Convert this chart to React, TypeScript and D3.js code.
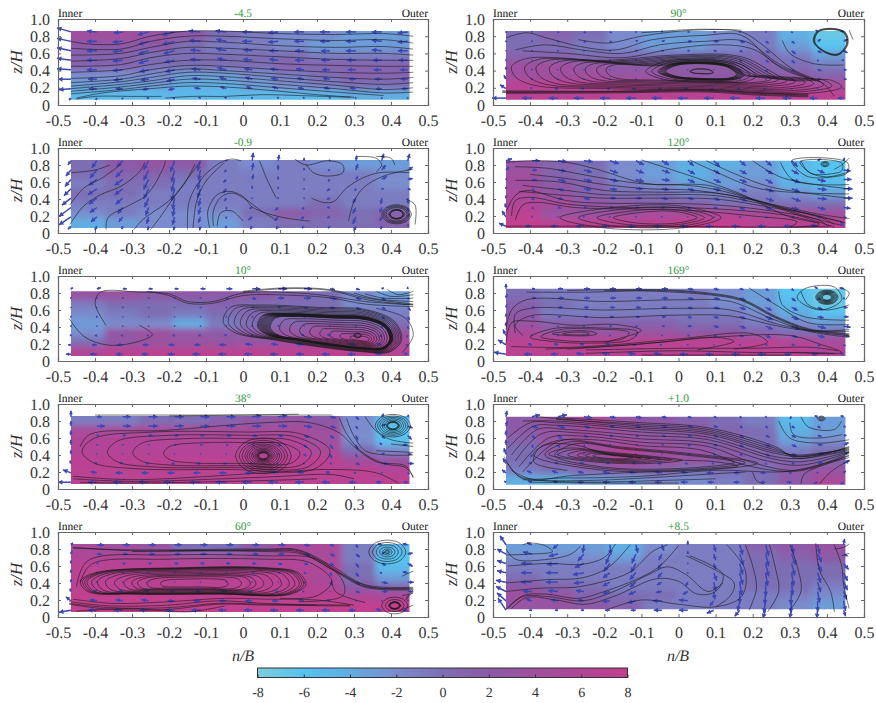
import React, { useEffect, useRef } from "react";
import {
  select,
  scaleLinear,
  scaleBand,
  axisBottom,
  axisLeft,
  axisTop,
  axisRight,
  line,
  curveCatmullRom,
  curveCatmullRomClosed,
  range,
} from "d3";

const FONT = "Liberation Serif";

const titles = ["-4.5", "-0.9", "10°", "38°", "60°", "90°", "120°", "169°", "+1.0", "+8.5"];
const heatTops = [0.86, 0.86, 0.82, 0.86, 0.86, 0.86, 0.85, 0.85, 0.85, 0.86];
const heatBottoms = [0.06, 0.06, 0.06, 0.06, 0.06, 0.06, 0.06, 0.06, 0.05, 0.09];
const nTicks = [-0.5, -0.4, -0.3, -0.2, -0.1, 0, 0.1, 0.2, 0.3, 0.4, 0.5];
const zTicks = [0, 0.2, 0.4, 0.6, 0.8, 1.0];
const colorTicks = [-8, -6, -4, -2, 0, 2, 4, 6, 8];
const colorValues = ["#7ccddc", "#56c3f0", "#60aee2", "#7a8ccd", "#7d6eb4", "#8c5aa6", "#9f509e", "#b14596", "#c23f8e"];

// arrow grid
const arrowN = [-0.465, -0.395, -0.325, -0.255, -0.185, -0.115, -0.045, 0.025, 0.095, 0.165, 0.235, 0.305, 0.375, 0.445];
const arrowZ = [0.85, 0.74, 0.63, 0.52, 0.41, 0.3, 0.19, 0.08];

// colour field, rows from top to bottom
const heat0 = [
  [4, 4, 3, 2, 0, -1, -2, -2, -3, -3],
  [2, 2, 2, 0, -1, -1, -2, -3, -3, -3],
  [1, 1, 0, 0, 0, 0, 0, -1, -1, -1],
  [1, 1, 0, 0, 0, 0, 1, 1, 1, 1],
  [-2, -2, -2, -3, -3, -2, -1, 0, 1, 1],
  [-3, -3, -3, -4, -4, -3, -2, -1, 0, 0],
  [-5, -5, -5, -5, -5, -5, -5, -5, -4, -4],
];
const heat1 = [
  [0, 2, 3, 2, -1, -2, -1, -2, -3, -3],
  [0, 1, 1, 0, -1, -1, -1, -1, -1, -2],
  [-1, 0, 0, -1, -1, -1, -1, -1, -1, -2],
  [0, 0, -1, -1, -1, -1, -1, -1, -1, -1],
  [-1, -1, -1, -1, -1, -1, -1, 0, -1, -1],
  [-2, -1, -2, -2, -2, 0, 2, 1, 0, 1],
  [-4, -3, -2, -2, -3, -1, 0, 0, 0, 1],
];
const heat2 = [
  [3, 3, 2, 2, 2, 2, 1, 0, -2, -3],
  [-1, 0, 0, 0, 1, 0, 0, 0, -2, -2],
  [-2, -1, 0, -1, 0, 1, 0, 0, 0, -1],
  [-3, -2, -2, -4, -1, 0, 1, 2, 1, 0],
  [-2, 3, 4, 3, 2, 2, 3, 4, 4, 3],
  [0, 2, 3, 3, 3, 3, 4, 6, 7, 5],
  [6, 7, 7, 7, 7, 7, 7, 7, 7, 6],
];
const heat3 = [
  [-1, -1, 0, 0, 1, 2, 3, 2, -2, -5],
  [5, 5, 5, 5, 5, 5, 5, 4, -2, -6],
  [6, 6, 6, 6, 6, 6, 6, 4, -2, -6],
  [6, 6, 6, 6, 6, 6, 6, 5, 0, -2],
  [7, 7, 7, 7, 7, 7, 7, 7, 4, 3],
  [7, 7, 7, 7, 7, 7, 7, 7, 7, 6],
  [7, 7, 7, 7, 7, 7, 7, 7, 7, 7],
];
const heat4 = [
  [5, 4, 3, 0, 0, 2, 5, 5, -1, -5],
  [6, 6, 6, 5, 5, 5, 6, 5, -1, -6],
  [7, 7, 7, 7, 7, 6, 6, 6, 0, -5],
  [7, 7, 7, 7, 7, 7, 7, 5, 0, -3],
  [7, 7, 7, 7, 7, 7, 7, 6, 2, 1],
  [8, 8, 8, 8, 8, 8, 7, 7, 6, 6],
  [8, 8, 8, 8, 8, 8, 8, 8, 8, 8],
];
const heat5 = [
  [0, 1, 0, -2, -3, -3, -2, -1, -4, -7],
  [0, 0, -1, -2, -3, -3, -2, -1, -3, -6],
  [1, 1, 0, 0, 0, 0, 0, 0, -1, -3],
  [4, 4, 3, 2, 2, 2, 2, 1, 0, -1],
  [4, 4, 4, 3, 3, 2, 2, 2, 2, 1],
  [7, 7, 7, 7, 6, 6, 6, 6, 6, 5],
  [7, 7, 7, 7, 7, 7, 7, 7, 7, 7],
];
const heat6 = [
  [3, 1, 0, -2, -3, -4, -4, -3, -5, -6],
  [4, 1, 0, -2, -3, -4, -3, -3, -5, -6],
  [4, 2, 1, -1, -2, -3, -3, -2, -4, -5],
  [5, 3, 1, 0, 0, -1, -1, -1, -2, -3],
  [6, 5, 3, 2, 1, 1, 0, 0, 0, 0],
  [7, 3, 3, 4, 5, 5, 6, 5, 5, 4],
  [8, 7, 7, 7, 7, 8, 8, 7, 7, 7],
];
const heat7 = [
  [0, -1, -1, -1, -1, -1, -2, -3, -6, -7],
  [1, 0, -1, -1, -1, -1, -2, -3, -5, -7],
  [2, -1, -1, -1, -1, -1, -1, -2, -4, -6],
  [3, 1, 1, 1, 1, 0, 0, -1, -2, -3],
  [5, 3, 3, 3, 3, 2, 2, 1, 0, 0],
  [7, 7, 7, 7, 7, 7, 7, 7, 6, 5],
  [7, 7, 7, 7, 7, 7, 7, 7, 7, 6],
];
const heat8 = [
  [2, 3, 5, 3, 2, 1, 0, -1, -5, -3],
  [2, 3, 4, 3, 2, 2, 1, 0, -4, -3],
  [1, 3, 4, 4, 3, 2, 1, 0, -3, -2],
  [0, 2, 4, 6, 4, 3, 2, 1, -1, 0],
  [0, 1, 3, 5, 4, 3, 2, 1, 1, 1],
  [-1, 0, 1, 2, 1, 0, 0, 0, 2, 3],
  [-4, -4, -3, -3, -2, -2, -1, 0, 2, 5],
];
const heat9 = [
  [-3, -3, -3, -4, -2, -1, -1, 1, 2, 3],
  [-2, -2, -2, -3, -1, -1, -1, 0, 1, 2],
  [-1, -1, -1, -1, -1, -1, -1, 0, 0, 0],
  [0, -1, -1, -1, -1, -1, -1, 0, 0, 0],
  [2, 1, 0, -1, -1, -1, -1, 0, 0, -1],
  [4, 3, 1, 0, 0, -1, -1, -1, -1, -2],
  [3, 3, 2, 1, -1, -1, -1, -1, -2, -3],
];
const heats = [heat0, heat1, heat2, heat3, heat4, heat5, heat6, heat7, heat8, heat9];

// arrow components, px-sized, rows follow arrowZ
const u0 = [
  [-14, -10, -9, -11, -12, -12, -11, -10, -10, -10, -10, -10, -10, -10],
  [-14, -10, -10, -10, -12, -11, -10, -10, -10, -10, -10, -10, -10, -10],
  [-14, -10, -10, -10, -11, -10, -10, -9, -9, -9, -9, -10, -10, -10],
  [-14, -10, -10, -10, -10, -10, -9, -9, -9, -9, -9, -9, -9, -9],
  [-14, -10, -10, -9, -9, -9, -9, -8, -8, -8, -8, -8, -8, -8],
  [-13, -9, -9, -8, -8, -8, -7, -7, -7, -7, -7, -7, -7, -7],
  [-12, -8, -7, -6, -6, -6, -6, -6, -6, -6, -6, -6, -6, -6],
  [-2, -1, -1, -2, -2, -2, -2, -1, -1, -1, -1, -1, -1, -1],
];
const v0 = [
  [4, 1, -1, -3, -3, 1, 1, 0, -1, 0, 0, 0, 0, -1],
  [3, 0, -1, -3, -3, 1, 2, 0, -1, 0, 0, 0, 1, -1],
  [3, 0, -1, -3, -3, 1, 2, 1, 0, 0, 0, 0, 1, 0],
  [2, 0, -1, -3, -2, 1, 2, 1, 1, 0, 0, 0, 0, 0],
  [1, 0, -1, -2, -2, 1, 2, 1, 1, 1, 0, 0, 0, 0],
  [0, 0, -1, -1, -2, 1, 2, 2, 1, 1, 1, 0, 0, 0],
  [-1, 0, 0, -1, -1, 1, 2, 2, 2, 1, 1, 1, 0, 0],
  [-2, -2, -1, 0, 0, 1, 1, 1, 1, 1, 1, 1, 0, 0],
];
const u1 = [
  [-3, -5, -6, -5, -4, -3, 1, 1, 1, 0, -1, 1, 2, 2],
  [-5, -7, -7, -5, -3, -2, -2, 1, 0, 0, -2, 2, 4, 5],
  [-6, -8, -8, -5, -3, -3, -3, 1, 0, 0, -2, 2, 5, 5],
  [-7, -9, -8, -5, -3, -3, -3, 0, 0, 0, -3, -1, 2, 3],
  [-9, -8, -7, -4, -2, -2, -2, -1, 0, 0, -3, -3, -1, 1],
  [-12, -7, -5, -3, -2, -2, 0, -3, -3, -2, -3, -3, -2, 1],
  [-12, -6, -4, -2, -2, -2, 0, -4, -3, -3, -3, -3, -2, 2],
  [-3, -2, -1, -1, -1, -1, -1, -2, -2, -2, -2, -2, -1, 1],
];
const v1 = [
  [-4, -7, -6, -9, -11, -10, 1, 8, 6, 3, 1, 5, 7, 7],
  [-6, -8, -7, -10, -12, -10, -2, 7, 5, 2, 0, 6, 5, 3],
  [-7, -6, -6, -10, -12, -10, -3, 5, 3, 1, -2, 3, 3, 1],
  [-7, -6, -6, -10, -12, -9, -4, 3, 2, -1, -2, -2, 0, -1],
  [-7, -6, -6, -9, -11, -8, -3, 0, -1, -1, -1, -5, -6, -6],
  [-9, -5, -6, -8, -9, -7, -2, -1, -3, -2, 0, -6, -5, -4],
  [-8, -5, -5, -7, -8, -6, -2, -3, -4, -2, -1, -7, -4, 3],
  [-3, -4, -3, -4, -4, -4, -2, -3, -3, -2, -2, -5, -3, 2],
];
const u2 = [
  [2, 4, 4, 4, 4, 5, 6, 8, 9, 8, 5, 4, 2, 0],
  [1, 1, 1, 1, 1, 1, 2, 4, 6, 7, 7, 5, 4, 2],
  [0, 0, 0, 0, 0, 1, 1, 2, 3, 4, 5, 5, 4, 3],
  [0, 0, 0, 0, 0, 0, 0, 0, 1, 1, 1, 2, 3, 2],
  [0, 0, 0, 0, 0, 0, 0, 0, 1, 0, 0, 0, 1, 1],
  [-1, -2, -2, -2, -2, -2, -2, -1, -2, -3, -3, -2, -2, -1],
  [-3, -5, -6, -6, -6, -6, -7, -7, -7, -8, -8, -7, -5, -2],
  [-5, -7, -7, -7, -7, -8, -8, -8, -8, -8, -8, -8, -7, -4],
];
const v2 = [
  [1, 1, 0, 0, 0, 0, 0, 0, 0, 0, -1, -1, 1, 2],
  [0, 0, 0, 0, 0, 0, -1, -1, 0, 0, -1, -1, -2, -1],
  [0, 0, 1, 0, 0, 0, 0, 0, 0, -1, -1, -2, -2, -3],
  [1, 1, 0, 0, 0, 0, 1, 1, 0, -1, -1, -2, -2, -3],
  [1, 0, 0, 0, 0, 0, 1, 1, 1, 0, 0, -1, -2, -3],
  [1, 0, 0, 0, 0, 0, 1, 1, 1, 1, 1, 0, -1, -2],
  [0, 0, 0, 0, 0, 0, 0, 1, 1, 1, 1, 1, 1, 0],
  [0, 0, 0, 0, 0, 0, 0, 0, 0, 0, 0, 0, 1, 1],
];
const u3 = [
  [0, 5, 8, 9, 9, 9, 9, 9, 9, 8, 6, 3, 2, 1],
  [0, 8, 8, 9, 9, 9, 9, 9, 9, 8, 6, 2, 4, 5],
  [0, 2, 3, 4, 4, 4, 5, 5, 5, 5, 4, 2, 3, 4],
  [0, 1, 1, 1, 2, 2, 2, 2, 3, 3, 3, 2, -2, -5],
  [0, 0, 0, 0, 0, 0, 0, 0, 1, 2, 2, 1, 3, 4],
  [-1, -2, -3, -3, -3, -4, -3, -3, -2, -1, 2, 4, 6, 6],
  [-8, -6, -7, -7, -7, -7, -7, -7, -7, -7, -4, -2, 1, 2],
  [-13, -9, -10, -10, -11, -11, -11, -10, -10, -9, -8, -7, -6, -4],
];
const v3 = [
  [6, 0, 0, 0, 0, 0, 0, 1, 1, 0, -1, -3, 3, 2],
  [5, 0, 0, 0, 0, 0, 0, 0, 0, -1, -2, -3, 2, -2],
  [5, 0, 0, 0, 0, 0, 0, -1, -1, -2, -3, -5, -3, -4],
  [5, 0, 0, 0, 0, 0, 0, 0, -1, -3, -4, -5, 2, 0],
  [4, 0, 0, 0, 0, 0, 0, 0, 0, -2, -4, -3, 1, 0],
  [3, 1, 1, 0, 0, 0, 0, 0, 0, 0, 0, -1, 0, 0],
  [3, 1, 0, 0, 0, 0, 0, 0, 1, 1, 1, 0, 0, -1],
  [0, 0, 0, 0, 0, 0, 0, 0, 0, 0, 0, 0, 0, 0],
];
const u4 = [
  [2, 7, 7, 7, 7, 7, 7, 7, 7, 6, 4, 2, -4, -5],
  [1, 5, 5, 6, 6, 6, 6, 6, 6, 6, 5, 4, 3, 5],
  [0, 2, 3, 3, 4, 4, 4, 4, 4, 4, 4, 3, 4, 5],
  [0, 1, 1, 1, 1, 1, 1, 2, 2, 2, 2, 3, -2, -5],
  [0, 0, 0, 0, 0, 0, 0, 0, 0, 1, 2, 4, 6, 6],
  [-1, -3, -4, -4, -4, -5, -5, -4, -3, -2, 0, 4, 6, 5],
  [-5, -7, -7, -7, -7, -7, -7, -7, -6, -5, -3, -1, 1, 1],
  [-12, -9, -9, -9, -9, -9, -8, -8, -8, -8, -8, -7, -6, -5],
];
const v4 = [
  [2, 0, 0, 0, 0, 0, 0, 0, 0, -1, -1, -3, 1, 1],
  [3, 0, 0, 0, 0, 0, 0, 0, 0, -1, -2, -3, 2, 1],
  [3, 0, 0, 0, 0, 0, 0, 0, -1, -1, -2, -4, -2, -3],
  [3, 0, 0, 0, 0, 0, 0, 0, 0, -1, -3, -4, 0, 1],
  [3, 1, 0, 0, 0, 0, 0, 0, 0, -1, -3, -2, -1, 0],
  [3, 1, 1, 1, 0, 0, 0, 0, 0, 0, 0, -1, 0, 0],
  [4, 1, 1, 1, 0, 0, 0, 0, 0, 1, 1, 0, 0, 1],
  [-2, 0, 0, 0, 0, 0, 0, 0, 0, 0, 0, 0, 1, 0],
];
const u5 = [
  [1, 1, 1, 2, 2, 1, 1, 2, 2, 1, 1, 1, -2, -3],
  [1, 1, 1, 2, 2, 2, 3, 4, 5, 5, 3, 3, 3, 4],
  [0, 1, 1, 1, 1, 2, 2, 2, 3, 3, 4, 4, 4, 4],
  [0, 0, 0, 1, 1, 1, 1, 1, 1, 2, 3, 3, 1, -2],
  [0, 0, 0, 0, 0, 0, 0, 0, 0, 1, 2, 3, 4, 3],
  [-2, -1, -1, -1, -1, -1, -1, -1, -1, -1, 0, 2, 3, 3],
  [-6, -2, -3, -3, -3, -4, -4, -4, -3, -3, -2, -1, 0, 0],
  [-14, -10, -9, -10, -10, -10, -10, -10, -10, -10, -10, -9, -8, -6],
];
const v5 = [
  [0, 0, -1, -1, -1, 0, 1, 0, 0, 0, 0, -1, 2, 1],
  [0, 0, -1, -1, -1, 1, 1, 0, 0, -1, -2, -2, 2, 2],
  [0, 0, 0, 0, 0, 0, 0, 0, 0, -1, -2, -3, -2, -2],
  [1, 0, 0, 0, 0, 0, 0, 0, 0, -1, -2, -3, -1, 0],
  [3, 1, 0, 0, 0, 0, 0, 0, 0, -1, -2, -2, -1, 0],
  [4, 1, 0, 0, 0, 0, 0, 0, 0, 0, -1, -1, 0, 0],
  [4, 1, 0, 0, 0, 0, 0, 0, 0, 0, 0, 0, 0, 0],
  [0, 0, 0, 0, 0, 0, 0, 0, 0, 0, 0, 0, 0, 0],
];
const u6 = [
  [6, 8, 9, 9, 9, 8, 7, 6, 6, 6, 6, 6, 3, 1],
  [3, 5, 8, 8, 8, 8, 8, 7, 6, 7, 7, 7, 7, 7],
  [1, 5, 8, 8, 8, 8, 8, 7, 7, 7, 7, 8, 8, 8],
  [0, 3, 6, 7, 7, 7, 7, 7, 7, 7, 8, 8, 9, 9],
  [0, 2, 5, 6, 6, 6, 6, 6, 6, 7, 8, 9, 9, 9],
  [-1, 2, 3, 3, 3, 3, 3, 3, 4, 5, 6, 7, 8, 7],
  [-4, 0, 0, -1, -1, -1, -1, 0, 1, 1, 2, 3, 4, 3],
  [-7, -7, -7, -8, -8, -8, -8, -8, -8, -8, -8, -8, -7, -3],
];
const v6 = [
  [2, 0, -1, -1, -3, -4, -4, -5, -6, -5, -5, -6, 2, 3],
  [3, 0, -1, -2, -3, -3, -3, -4, -4, -4, -4, -4, -3, -1],
  [1, -1, -2, -2, -2, -2, -1, -3, -3, -3, -4, -3, -2, 0],
  [2, -2, -2, -1, -1, 0, -1, -2, -2, -3, -3, -3, -1, 0],
  [3, -2, -1, -1, 0, 0, -1, -1, -2, -3, -3, -3, -1, 0],
  [4, -1, -1, 0, 0, 0, 0, -1, -1, -2, -2, -2, -2, -1],
  [6, 1, 0, 0, 0, 0, 0, 0, -1, -1, -1, -1, -1, -1],
  [3, 0, 0, 0, 0, 0, 0, 0, 0, 0, 0, 0, 1, 5],
];
const u7 = [
  [0, 3, 5, 6, 6, 6, 6, 6, 5, 4, 3, 2, -3, -4],
  [1, 4, 6, 6, 6, 6, 6, 6, 6, 6, 5, 4, 3, 1],
  [1, 3, 5, 5, 5, 5, 5, 5, 6, 6, 6, 6, 5, 4],
  [0, 2, 3, 4, 4, 4, 4, 4, 5, 6, 7, 7, 6, 5],
  [0, 1, 1, 1, 2, 2, 3, 4, 5, 6, 7, 8, 8, 7],
  [-3, -1, -1, 0, 1, 1, 1, 2, 3, 4, 5, 6, 7, 6],
  [-8, -4, -4, -4, -4, -3, -2, -1, 0, 1, 2, 3, 3, 2],
  [-12, -8, -7, -8, -8, -8, -8, -8, -8, -8, -8, -7, -6, -3],
];
const v7 = [
  [5, 0, 0, 0, 0, 0, 0, -1, -1, -1, -2, -2, 2, 1],
  [4, 0, 0, 0, 0, 0, 0, -1, -1, -2, -3, -3, -2, -1],
  [3, 0, 0, 0, 0, 0, 0, -1, -1, -2, -3, -3, -2, 0],
  [3, -1, 0, 0, 0, 0, 0, -1, -1, -2, -3, -3, -1, 0],
  [4, 0, 0, 0, 0, 0, 0, 0, -1, -2, -3, -3, -2, -1],
  [6, 1, 0, 0, 0, 0, 0, 0, -1, -1, -2, -2, -2, -1],
  [5, 1, 1, 1, 1, 0, 0, 0, 0, 0, 0, 0, -1, -1],
  [2, 0, 0, 1, 1, 1, 1, 0, 0, 0, 0, 0, 0, 1],
];
const u8 = [
  [1, 8, 9, 8, 6, 6, 5, 4, 3, 2, 1, -2, -3, -3],
  [1, 6, 7, 6, 5, 5, 5, 5, 4, 3, 2, 3, 3, 2],
  [0, 3, 4, 4, 3, 3, 4, 4, 4, 4, 4, 4, 4, 3],
  [0, 1, 2, 1, 1, 2, 2, 3, 4, 4, 5, 5, 5, 5],
  [-2, -1, -1, -1, -1, 0, 0, 1, 2, 3, 4, 5, 6, 5],
  [-3, -3, -3, -4, -4, -4, -4, -3, -2, -1, 1, 3, 5, 6],
  [-4, -5, -6, -6, -7, -7, -7, -7, -7, -6, -5, -3, -1, 2],
  [-2, -4, -5, -6, -7, -7, -7, -7, -6, -6, -5, -5, -4, -3],
];
const v8 = [
  [6, 2, 2, -1, -1, -1, -1, -1, -1, -1, -1, -2, 1, 1],
  [5, -2, -2, -2, -1, -1, -1, -1, -1, -2, -2, -2, -2, -1],
  [5, -3, -3, -2, -1, -1, -1, -1, -2, -2, -2, -2, -1, 0],
  [5, -3, -3, -2, 0, 0, 0, -1, -1, -2, -2, -2, 0, 2],
  [6, -3, -1, 0, 0, 0, 0, 0, -1, -1, -2, -1, 1, 2],
  [5, 1, 1, 1, 1, 1, 0, 0, 0, -1, -1, 0, 1, 3],
  [3, 2, 2, 1, 1, 1, 1, 1, 0, 0, 0, 0, 1, 2],
  [1, 1, 1, 0, 0, 0, 0, 0, 0, 0, 0, 0, -1, -2],
];
const u9 = [
  [-6, -5, -5, -1, 1, 2, 2, 0, 2, 3, 3, 2, 2, 1],
  [-9, -9, -9, -6, -4, -4, -3, 0, 2, 4, 3, 4, 4, 4],
  [-9, -11, -11, -9, -6, -5, -4, 0, 2, 3, 3, 3, 4, 5],
  [-9, -11, -12, -11, -7, -6, -4, 0, 3, 3, 2, 2, 3, 4],
  [-10, -11, -12, -10, -7, -6, -5, -2, 2, 2, 0, 1, 3, 4],
  [-10, -9, -10, -8, -7, -7, -6, -5, 1, 0, -1, -1, 2, 3],
  [-9, -6, -7, -6, -7, -8, -9, -9, -4, -2, -2, -1, 0, 2],
  [-8, -3, -3, -3, -5, -5, -8, -9, -7, -5, -3, -2, -1, 2],
];
const v9 = [
  [9, 2, -4, -8, -10, -8, -6, 4, -7, -10, -11, -9, -9, 6],
  [5, 2, -2, -7, -10, -9, -6, 3, -6, -11, -12, -11, -8, -2],
  [3, 0, -1, -4, -8, -9, -6, 1, -6, -11, -13, -12, -8, -6],
  [2, 0, 0, -2, -5, -7, -5, -1, -8, -12, -13, -13, -10, -8],
  [2, 0, 0, -1, -4, -5, -3, -4, -9, -13, -14, -13, -10, -8],
  [5, 0, 1, 1, -2, -3, -1, -3, -8, -12, -13, -13, -11, -8],
  [8, 2, 1, 1, -1, -2, 0, 1, -5, -10, -12, -12, -11, -10],
  [12, 0, 0, 0, 0, 0, 0, 0, -3, -6, -8, -8, -8, -6],
];
const us = [u0, u1, u2, u3, u4, u5, u6, u7, u8, u9];
const vs = [v0, v1, v2, v3, v4, v5, v6, v7, v8, v9];

// streamlines as flat n,z lists
const streams0 = [
  [0.46, 0.8, 0.38, 0.83, 0.25, 0.82, 0.1, 0.83, -0.05, 0.86, -0.15, 0.86, -0.25, 0.8, -0.33, 0.71, -0.42, 0.71, -0.465, 0.74],
  [0.46, 0.72, 0.38, 0.76, 0.25, 0.75, 0.1, 0.77, -0.05, 0.8, -0.15, 0.8, -0.25, 0.74, -0.33, 0.65, -0.465, 0.66],
  [0.46, 0.65, 0.38, 0.68, 0.25, 0.67, 0.1, 0.69, -0.05, 0.73, -0.15, 0.74, -0.25, 0.67, -0.33, 0.6, -0.465, 0.58],
  [0.46, 0.58, 0.38, 0.6, 0.25, 0.6, 0.1, 0.63, -0.05, 0.66, -0.15, 0.67, -0.25, 0.61, -0.33, 0.54, -0.465, 0.51],
  [0.46, 0.52, 0.38, 0.52, 0.25, 0.53, 0.1, 0.56, -0.05, 0.59, -0.15, 0.6, -0.25, 0.55, -0.33, 0.47, -0.465, 0.45],
  [0.46, 0.45, 0.38, 0.45, 0.25, 0.46, 0.1, 0.48, -0.05, 0.52, -0.15, 0.52, -0.25, 0.47, -0.33, 0.41, -0.465, 0.38],
  [0.46, 0.38, 0.38, 0.37, 0.25, 0.38, 0.1, 0.41, -0.05, 0.45, -0.15, 0.46, -0.25, 0.41, -0.33, 0.34, -0.465, 0.31],
  [0.46, 0.32, 0.38, 0.3, 0.25, 0.32, 0.1, 0.36, -0.05, 0.4, -0.15, 0.42, -0.25, 0.36, -0.33, 0.3, -0.465, 0.26],
  [0.46, 0.26, 0.38, 0.24, 0.25, 0.27, 0.1, 0.32, -0.05, 0.37, -0.15, 0.38, -0.25, 0.32, -0.33, 0.27, -0.465, 0.22],
  [0.46, 0.2, 0.38, 0.18, 0.25, 0.23, 0.1, 0.28, -0.05, 0.33, -0.15, 0.34, -0.25, 0.28, -0.33, 0.24, -0.465, 0.19],
  [0.46, 0.15, 0.38, 0.14, 0.25, 0.19, 0.1, 0.24, -0.05, 0.29, -0.15, 0.3, -0.25, 0.25, -0.33, 0.21, -0.465, 0.16],
  [0.38, 0.11, 0.25, 0.15, 0.1, 0.2, -0.05, 0.25, -0.15, 0.26, -0.25, 0.22, -0.33, 0.18, -0.465, 0.13],
  [0.3, 0.09, 0.2, 0.12, 0.1, 0.16, -0.05, 0.21, -0.15, 0.22, -0.25, 0.19, -0.38, 0.14, -0.45, 0.08],
  [0.29, 0.09, 0.15, 0.11, 0.05, 0.12, -0.05, 0.1, -0.14, 0.1, -0.21, 0.08],
  [-0.22, 0.1, -0.3, 0.1, -0.4, 0.1, -0.45, 0.07],
];
const streams1 = [
  [-0.465, 0.71, -0.4, 0.74, -0.36, 0.8],
  [-0.468, 0.1, -0.43, 0.32, -0.385, 0.45, -0.33, 0.55, -0.28, 0.72, -0.265, 0.83],
  [-0.468, 0.33, -0.43, 0.53, -0.38, 0.65, -0.33, 0.81],
  [-0.37, 0.04, -0.365, 0.18, -0.31, 0.32, -0.26, 0.45, -0.215, 0.77, -0.21, 0.85],
  [-0.295, 0.04, -0.27, 0.16, -0.2, 0.38, -0.16, 0.57, -0.13, 0.81],
  [-0.25, 0.04, -0.225, 0.18, -0.19, 0.4, -0.155, 0.61, -0.117, 0.83],
  [-0.15, 0.04, -0.145, 0.38, -0.11, 0.65, -0.06, 0.83, -0.03, 0.87, -0.005, 0.85],
  [-0.135, 0.06, -0.125, 0.38, -0.1, 0.61, -0.05, 0.83],
  [-0.09, 0.06, -0.095, 0.26, -0.07, 0.45, -0.035, 0.49, 0, 0.43, 0.027, 0.3, 0.1, 0.19, 0.18, 0.14],
  [-0.08, 0.08, -0.08, 0.26, -0.06, 0.42, -0.03, 0.47, 0.01, 0.39, 0.04, 0.29, 0.09, 0.15],
  [-0.07, 0.08, -0.06, 0.24, -0.03, 0.26, 0, 0.14],
  [0.045, 0.85, 0.063, 0.65, 0.09, 0.41],
  [0.14, 0.87, 0.17, 0.8, 0.23, 0.85, 0.27, 0.8, 0.27, 0.71, 0.225, 0.67, 0.19, 0.71, 0.17, 0.81],
  [0.185, 0.41, 0.217, 0.36, 0.245, 0.37, 0.28, 0.53, 0.325, 0.65, 0.37, 0.71, 0.45, 0.71],
  [0.285, 0.14, 0.3, 0.37, 0.325, 0.53, 0.38, 0.67, 0.46, 0.75],
  [0.305, 0.9, 0.36, 0.88, 0.375, 0.8, 0.36, 0.72],
  [0.36, 0.9, 0.4, 0.88, 0.41, 0.8],
  [0.44, 0.4, 0.465, 0.33, 0.465, 0.1],
];
const streams2 = [
  [-0.37, 0.42, -0.4, 0.68, -0.385, 0.81, -0.28, 0.81, -0.2, 0.79, -0.15, 0.7, -0.08, 0.7, 0, 0.8, 0.15, 0.8, 0.24, 0.76, 0.33, 0.7, 0.46, 0.66],
  [-0.26, 0.82, -0.2, 0.77, -0.15, 0.68, -0.08, 0.68, 0, 0.77, 0.15, 0.77, 0.24, 0.74, 0.33, 0.67, 0.46, 0.64],
  [-0.47, 0.5, -0.43, 0.29, -0.37, 0.19, -0.3, 0.21, -0.245, 0.31, -0.28, 0.42],
  [0, 0.81, 0.11, 0.85, 0.235, 0.83, 0.335, 0.72, 0.46, 0.66],
  [0, 0.82, 0.11, 0.86, 0.235, 0.84, 0.335, 0.74, 0.46, 0.67],
  [0.3, 0.8, 0.36, 0.73, 0.46, 0.7],
  [0.33, 0.79, 0.38, 0.74, 0.46, 0.74],
  [0.36, 0.82, 0.4, 0.76, 0.46, 0.78],
  [0.39, 0.84, 0.42, 0.78, 0.46, 0.82],
  [0.36, 0.62, 0.44, 0.5, 0.46, 0.3, 0.43, 0.1],
];
const streams3 = [
  [-0.4, 0.87, -0.03, 0.87, 0.24, 0.87],
  [-0.2, 0.86, 0, 0.87, 0.15, 0.88],
  [-0.44, 0.5, -0.415, 0.64, -0.21, 0.69, 0.06, 0.78, 0.18, 0.78, 0.26, 0.66, 0.3, 0.5, 0.36, 0.32, 0.44, 0.27, 0.46, 0.13],
  [0.28, 0.83, 0.3, 0.62, 0.335, 0.44, 0.46, 0.4],
  [0.26, 0.84, 0.28, 0.65, 0.32, 0.44, 0.38, 0.3, 0.44, 0.25, 0.46, 0.14],
  [0.33, 0.85, 0.36, 0.68, 0.4, 0.58, 0.46, 0.54],
  [-0.46, 0.15, -0.3, 0.11, 0.06, 0.19, 0.24, 0.23, 0.36, 0.19, 0.42, 0.07],
  [-0.46, 0.12, -0.3, 0.09, 0.06, 0.14, 0.24, 0.17, 0.3, 0.12],
  [-0.44, 0.08, -0.3, 0.07, 0.06, 0.1, 0.2, 0.12],
  [0.4, 0.53, 0.46, 0.5],
  [0.36, 0.45, 0.46, 0.43],
];
const streams4 = [
  [-0.46, 0.82, -0.3, 0.78, 0.06, 0.79, 0.15, 0.78, 0.24, 0.58, 0.33, 0.36, 0.46, 0.34],
  [-0.46, 0.81, -0.3, 0.79, 0.06, 0.8, 0.15, 0.79, 0.24, 0.6, 0.33, 0.38, 0.46, 0.35],
  [-0.3, 0.77, 0.06, 0.78, 0.15, 0.765, 0.24, 0.56, 0.33, 0.35, 0.46, 0.32],
  [-0.2, 0.78, 0.06, 0.77, 0.16, 0.74, 0.25, 0.54, 0.34, 0.36, 0.46, 0.33],
  [-0.44, 0.4, -0.41, 0.62, -0.2, 0.68, 0.06, 0.68, 0.18, 0.64, 0.24, 0.42, 0.2, 0.25, 0.1, 0.22],
  [-0.45, 0.36, -0.42, 0.66, -0.2, 0.73, 0.06, 0.72, 0.2, 0.68, 0.27, 0.42, 0.27, 0.25, 0.15, 0.18],
  [-0.47, 0.15, -0.36, 0.09, -0.2, 0.09, -0.07, 0.15, 0.06, 0.14, 0.29, 0.13],
  [-0.47, 0.16, -0.36, 0.11, -0.2, 0.11, -0.07, 0.16, 0.06, 0.15, 0.29, 0.14],
  [-0.47, 0.18, -0.36, 0.13, -0.2, 0.14, -0.07, 0.19, 0.06, 0.16, 0.2, 0.14],
  [-0.46, 0.21, -0.35, 0.16, -0.2, 0.18, -0.05, 0.22, 0.06, 0.21, 0.2, 0.2, 0.3, 0.14],
  [-0.45, 0.07, -0.3, 0.1, -0.15, 0.06, -0.05, 0.13],
  [0.33, 0.17, 0.25, 0.3, 0.24, 0.43],
  [0.46, 0.32, 0.44, 0.22],
  [0.46, 0.3, 0.44, 0.2],
  [0.46, 0.28, 0.43, 0.25],
  [0.43, 0.48, 0.46, 0.54],
  [0.42, 0.07, 0.46, 0.14],
];
const streams5 = [
  [-0.465, 0.78, -0.41, 0.84, -0.355, 0.78, -0.265, 0.68, -0.17, 0.64, -0.07, 0.76, 0.07, 0.81, 0.17, 0.81, 0.26, 0.48, 0.38, 0.27],
  [-0.27, 0.76, -0.19, 0.72, -0.1, 0.8, 0.04, 0.87, 0.17, 0.85, 0.22, 0.72, 0.31, 0.41, 0.39, 0.25, 0.42, 0.1],
  [-0.44, 0.64, -0.36, 0.7, -0.26, 0.64, -0.15, 0.6, -0.05, 0.7, 0.07, 0.74, 0.18, 0.74, 0.27, 0.48, 0.37, 0.28],
  [-0.42, 0.63, -0.3, 0.6, -0.15, 0.55, -0.02, 0.65, 0.1, 0.7, 0.2, 0.65, 0.29, 0.4, 0.36, 0.3],
  [-0.1, 0.84, 0.05, 0.88, 0.17, 0.87],
  [-0.475, 0.155, -0.19, 0.155, 0.08, 0.17, 0.21, 0.135, 0.35, 0.115],
  [-0.475, 0.165, -0.19, 0.16, 0.08, 0.18, 0.21, 0.145, 0.35, 0.125],
  [-0.475, 0.145, -0.19, 0.15, 0.08, 0.16, 0.21, 0.125, 0.35, 0.105],
  [-0.465, 0.135, -0.19, 0.14, 0.08, 0.15, 0.21, 0.115, 0.35, 0.095],
  [0.28, 0.75, 0.3, 0.6, 0.365, 0.48, 0.445, 0.465],
  [0.46, 0.87, 0.47, 0.76],
];
const streams6 = [
  [-0.465, 0.83, -0.4, 0.85, -0.3, 0.83, -0.22, 0.75, -0.085, 0.58, 0.08, 0.56, 0.21, 0.38, 0.35, 0.17, 0.42, 0.07],
  [-0.44, 0.78, -0.35, 0.76, -0.25, 0.68, -0.1, 0.58, 0.05, 0.55, 0.2, 0.4, 0.35, 0.19, 0.44, 0.09],
  [-0.4, 0.69, -0.3, 0.64, -0.2, 0.57, -0.08, 0.52, 0.05, 0.5, 0.2, 0.39, 0.35, 0.22, 0.45, 0.12],
  [-0.44, 0.62, -0.32, 0.6, -0.2, 0.5, -0.05, 0.48, 0.1, 0.47, 0.25, 0.34, 0.38, 0.22, 0.46, 0.17],
  [-0.42, 0.56, -0.3, 0.5, -0.2, 0.45, -0.05, 0.45, 0.1, 0.44, 0.25, 0.32, 0.38, 0.2, 0.44, 0.13],
  [-0.43, 0.49, -0.3, 0.44, -0.2, 0.41, -0.05, 0.41, 0.1, 0.4, 0.25, 0.3, 0.38, 0.19, 0.42, 0.1],
  [-0.465, 0.25, -0.44, 0.44, -0.41, 0.5, -0.3, 0.38, -0.2, 0.35, -0.05, 0.35, 0.1, 0.33, 0.25, 0.26, 0.38, 0.15, 0.4, 0.09],
  [-0.45, 0.2, -0.44, 0.38, -0.4, 0.42, -0.3, 0.34, -0.15, 0.3, 0, 0.3, 0.15, 0.27, 0.3, 0.2, 0.38, 0.1, 0.3, 0.07],
  [-0.44, 0.15, -0.42, 0.33, -0.38, 0.36, -0.28, 0.3, -0.1, 0.28, 0.05, 0.26, 0.2, 0.2, 0.32, 0.13, 0.3, 0.07],
  [-0.465, 0.08, -0.3, 0.08, -0.1, 0.08, 0.1, 0.075, 0.3, 0.07, 0.41, 0.08],
  [-0.1, 0.86, 0.04, 0.66, 0.165, 0.465, 0.3, 0.19, 0.38, 0.12],
  [0.03, 0.86, 0.1, 0.72, 0.22, 0.52, 0.46, 0.46],
  [0.075, 0.85, 0.15, 0.7, 0.25, 0.54, 0.46, 0.41],
  [0.2, 0.85, 0.28, 0.65, 0.46, 0.52],
  [0.275, 0.83, 0.31, 0.62, 0.46, 0.57],
  [0.33, 0.85, 0.35, 0.72, 0.4, 0.66, 0.46, 0.72],
  [0.46, 0.88, 0.44, 0.8, 0.42, 0.75],
];
const streams7 = [
  [-0.41, 0.81, -0.24, 0.81, -0.06, 0.83, 0.08, 0.79, 0.17, 0.72, 0.26, 0.52, 0.35, 0.37, 0.46, 0.31],
  [-0.3, 0.83, -0.06, 0.84, 0.08, 0.8, 0.17, 0.73, 0.26, 0.53, 0.35, 0.38, 0.46, 0.32],
  [-0.2, 0.83, -0.06, 0.82, 0.08, 0.78, 0.17, 0.71, 0.26, 0.51, 0.35, 0.36, 0.46, 0.3],
  [-0.465, 0.37, -0.45, 0.6, -0.41, 0.72, -0.2, 0.7, 0, 0.72, 0.14, 0.7, 0.25, 0.5, 0.35, 0.35, 0.46, 0.28],
  [-0.44, 0.33, -0.44, 0.55, -0.4, 0.62, -0.2, 0.6, 0, 0.62, 0.14, 0.6, 0.27, 0.43, 0.36, 0.36, 0.46, 0.35],
  [-0.42, 0.3, -0.44, 0.42, -0.4, 0.53, -0.2, 0.51, 0, 0.54, 0.14, 0.53, 0.28, 0.4, 0.37, 0.35, 0.46, 0.37],
  [-0.465, 0.2, -0.45, 0.45, -0.4, 0.47, -0.28, 0.42, -0.17, 0.43, -0.1, 0.36, -0.2, 0.22],
  [-0.36, 0.14, -0.2, 0.17, -0.05, 0.22, 0.1, 0.28, 0.15, 0.23, 0.05, 0.13],
  [-0.45, 0.17, -0.3, 0.16, -0.15, 0.2, 0, 0.26, 0.2, 0.32, 0.24, 0.22, 0.15, 0.14],
  [-0.3, 0.14, -0.1, 0.2, 0.1, 0.28, 0.3, 0.3, 0.38, 0.2, 0.44, 0.1, 0.3, 0.1],
  [-0.25, 0.09, 0, 0.12, 0.2, 0.1, 0.35, 0.1, 0.42, 0.09],
  [-0.25, 0.13, 0, 0.15, 0.2, 0.15, 0.36, 0.16, 0.43, 0.12],
  [-0.1, 0.07, 0.1, 0.07, 0.3, 0.07],
  [0.27, 0.82, 0.28, 0.66, 0.34, 0.52, 0.46, 0.48],
  [0.19, 0.86, 0.27, 0.64, 0.35, 0.45, 0.46, 0.43],
  [0.33, 0.82, 0.35, 0.66, 0.4, 0.6, 0.46, 0.66],
  [0.44, 0.86, 0.46, 0.8, 0.45, 0.72],
];
const streams8 = [
  [-0.33, 0.84, -0.1, 0.78, 0.08, 0.72, 0.26, 0.5, 0.32, 0.36, 0.46, 0.5],
  [-0.33, 0.82, -0.1, 0.76, 0.08, 0.7, 0.26, 0.48, 0.32, 0.38, 0.46, 0.49],
  [-0.38, 0.85, -0.1, 0.74, 0.08, 0.68, 0.26, 0.46, 0.32, 0.39, 0.46, 0.48],
  [-0.42, 0.8, -0.33, 0.8, -0.1, 0.72, 0.08, 0.66, 0.26, 0.44, 0.32, 0.4, 0.46, 0.47],
  [-0.46, 0.6, -0.4, 0.78, -0.33, 0.78, -0.1, 0.7, 0.08, 0.64, 0.26, 0.42, 0.33, 0.38, 0.46, 0.46],
  [-0.46, 0.48, -0.39, 0.74, -0.33, 0.75, -0.1, 0.67, 0.08, 0.61, 0.26, 0.38, 0.33, 0.36, 0.46, 0.45],
  [-0.45, 0.4, -0.38, 0.7, -0.3, 0.7, -0.1, 0.63, 0.08, 0.58, 0.25, 0.36, 0.33, 0.32, 0.46, 0.44],
  [-0.44, 0.33, -0.37, 0.65, -0.27, 0.66, -0.1, 0.59, 0.08, 0.54, 0.23, 0.34, 0.33, 0.28, 0.46, 0.43],
  [-0.43, 0.26, -0.35, 0.6, -0.25, 0.62, -0.1, 0.55, 0.08, 0.5, 0.2, 0.31, 0.32, 0.22, 0.46, 0.42],
  [-0.42, 0.2, -0.33, 0.55, -0.23, 0.58, -0.1, 0.51, 0.06, 0.46, 0.18, 0.28, 0.32, 0.21, 0.46, 0.4],
  [-0.47, 0.38, -0.43, 0.15, -0.3, 0.13, -0.1, 0.15, 0.1, 0.22, 0.3, 0.21, 0.46, 0.39],
  [-0.45, 0.22, -0.4, 0.12, -0.25, 0.1, -0.05, 0.14, 0.1, 0.18, 0.18, 0.2],
  [-0.42, 0.11, -0.25, 0.08, -0.05, 0.1, 0.1, 0.12],
  [-0.4, 0.08, -0.2, 0.07, 0, 0.07],
  [-0.46, 0.3, -0.42, 0.12, -0.28, 0.16, -0.1, 0.2, 0.1, 0.24, 0.16, 0.27, 0.1, 0.32, -0.05, 0.35, -0.2, 0.42, -0.28, 0.52, -0.37, 0.5, -0.39, 0.32, -0.3, 0.22],
  [0.2, 0.2, 0.21, 0.1, 0.23, 0.06],
  [0.33, 0.06, 0.34, 0.18, 0.46, 0.37],
  [0.38, 0.06, 0.41, 0.2, 0.46, 0.34],
  [0.3, 0.78, 0.31, 0.64, 0.38, 0.6, 0.44, 0.64],
  [0.27, 0.8, 0.3, 0.6, 0.38, 0.54, 0.46, 0.58],
  [0.33, 0.85, 0.35, 0.73, 0.42, 0.7, 0.44, 0.8],
];
const streams9 = [
  [-0.465, 0.8, -0.44, 0.68, -0.35, 0.68, -0.29, 0.74, -0.265, 0.83],
  [-0.42, 0.85, -0.4, 0.87, -0.36, 0.84, -0.34, 0.77, -0.4, 0.74, -0.465, 0.73],
  [-0.46, 0.6, -0.35, 0.63, -0.26, 0.62, -0.2, 0.7, -0.17, 0.86],
  [-0.465, 0.4, -0.35, 0.44, -0.26, 0.46, -0.19, 0.58, -0.13, 0.85],
  [-0.465, 0.3, -0.37, 0.34, -0.28, 0.35, -0.2, 0.42, -0.13, 0.53, -0.07, 0.77, -0.03, 0.85],
  [-0.465, 0.09, -0.42, 0.25, -0.36, 0.27, -0.27, 0.22, -0.2, 0.3, -0.1, 0.47, -0.05, 0.6, 0, 0.84],
  [-0.46, 0.1, -0.42, 0.24, -0.35, 0.24, -0.26, 0.19, -0.18, 0.29, -0.08, 0.5, -0.03, 0.59, 0.02, 0.5, 0.08, 0.3, 0.12, 0.4],
  [-0.45, 0.1, -0.41, 0.23, -0.33, 0.2, -0.25, 0.15, -0.17, 0.25, -0.06, 0.45, 0, 0.42, 0.05, 0.27, 0.1, 0.3, 0.12, 0.5, 0.03, 0.72],
  [-0.19, 0.09, -0.1, 0.2, 0, 0.15, 0.1, 0.12, 0.17, 0.24, 0.18, 0.55, 0.13, 0.85],
  [0.02, 0.72, 0.1, 0.55, 0.15, 0.4, 0.14, 0.25, 0.1, 0.12],
  [0.18, 0.85, 0.2, 0.6, 0.21, 0.33, 0.19, 0.08],
  [0.245, 0.85, 0.26, 0.6, 0.27, 0.3, 0.24, 0.06],
  [0.3, 0.85, 0.32, 0.6, 0.33, 0.3, 0.3, 0.08],
  [0.37, 0.87, 0.38, 0.55, 0.41, 0.3, 0.42, 0.06],
  [0.42, 0.85, 0.44, 0.6, 0.445, 0.38, 0.46, 0.1],
  [0.46, 0.86, 0.445, 0.82, 0.42, 0.8],
  [0.46, 0.75, 0.44, 0.72],
];
const streams = [streams0, streams1, streams2, streams3, streams4, streams5, streams6, streams7, streams8, streams9];

// closed orbits: a centre, a shape around it and the sizes at which it was read
type Ring = { center: number[]; shape: number[]; sizes: number[] };
const oval = [-0.05, 0, -0.035, 0.1, 0, 0.14, 0.035, 0.1, 0.05, 0, 0.035, -0.1, 0, -0.14, -0.035, -0.1];

const rings0: Ring[] = [];
const rings1: Ring[] = [
  { center: [0.415, 0.22], shape: oval, sizes: [0.8, 0.72, 0.64, 0.56, 0.42, 0.39, 0.36, 0.33] },
];
const rings2: Ring[] = [
  {
    center: [0.33, 0.25],
    shape: [-0.272, 0.15, -0.258, 0.27, -0.204, 0.29, -0.087, 0.27, 0.003, 0.25, 0.057, 0.15, 0.07, 0, 0.048, -0.1, -0.006, -0.1, -0.087, -0.06, -0.177, 0, -0.25, 0.06],
    sizes: [1.41, 1.36, 1.3, 1.24, 1.18, 1.12, 1.07, 1.06, 1.05, 1.04, 1.03, 1.02, 1.01, 1, 0.99, 0.98, 0.97, 0.96, 0.95, 0.94, 0.85, 0.75, 0.65, 0.55, 0.45, 0.35, 0.25, 0.15],
  },
  { center: [0.31, 0.3], shape: oval, sizes: [0.2, 0.17] },
];
const rings3: Ring[] = [
  {
    center: [0.055, 0.39],
    shape: [-0.49, 0.05, -0.46, 0.2, -0.3, 0.28, -0.05, 0.28, 0.1, 0.26, 0.18, 0.06, 0.14, -0.15, -0.1, -0.16, -0.35, -0.15, -0.46, -0.08],
    sizes: [1, 0.86, 0.72, 0.55],
  },
  { center: [0.055, 0.39], shape: oval, sizes: [1.5, 1.3, 1.15, 1, 0.88, 0.76, 0.64, 0.54, 0.46, 0.4, 0.34, 0.31, 0.28, 0.25] },
  { center: [0.405, 0.745], shape: oval, sizes: [0.95, 0.82, 0.7, 0.58, 0.46, 0.36, 0.33, 0.3, 0.27] },
];
const rings4: Ring[] = [
  {
    center: [-0.13, 0.39],
    shape: [-0.31, 0.03, -0.27, 0.13, -0.03, 0.19, 0.19, 0.19, 0.28, 0.13, 0.3, -0.01, 0.26, -0.12, 0.06, -0.12, -0.17, -0.12, -0.29, -0.09],
    sizes: [1, 0.98, 0.96, 0.94, 0.9, 0.85, 0.78, 0.7, 0.62, 0.55, 0.5, 0.42, 0.3],
  },
  { center: [0.39, 0.765], shape: oval, sizes: [1, 0.8, 0.6, 0.42, 0.26, 0.14, 0.1] },
  { center: [0.41, 0.135], shape: oval, sizes: [0.7, 0.5, 0.32, 0.3, 0.28, 0.26, 0.24] },
];
const rings5: Ring[] = [
  {
    center: [0.06, 0.39],
    shape: [-0.51, 0.055, -0.47, 0.15, -0.25, 0.13, -0.07, 0.19, 0.11, 0.17, 0.24, -0.1, 0.35, -0.1, 0.38, -0.18, 0.29, -0.255, 0.02, -0.22, -0.25, -0.2, -0.45, -0.16, -0.5, -0.06],
    sizes: [1, 0.93, 0.87, 0.8, 0.74, 0.67, 0.61, 0.55, 0.5],
  },
  {
    center: [0.063, 0.39],
    shape: [-0.108, 0, -0.078, 0.075, 0, 0.1, 0.077, 0.055, 0.104, -0.04, 0.087, -0.08, 0, -0.09, -0.078, -0.06],
    sizes: [1.1, 1.07, 1.04, 1.01, 0.98, 0.95, 0.92, 0.9, 0.3, 0.28, 1.25, 1.4],
  },
  { center: [0.41, 0.735], shape: [-0.045, 0, -0.035, 0.12, 0.01, 0.15, 0.04, 0.1, 0.045, -0.03, 0.02, -0.15, -0.015, -0.12], sizes: [1.03, 1, 0.97, 0.94] },
];
const rings6: Ring[] = [
  { center: [-0.02, 0.18], shape: [-0.2, 0, -0.08, 0.09, 0.02, 0.09, 0.09, 0, 0.02, -0.08, -0.12, -0.08], sizes: [1, 0.78, 1.25, 1.5] },
  { center: [0.395, 0.81], shape: oval, sizes: [0.22, 0.16, 0.1] },
  { center: [0.395, 0.8], shape: [-0.09, 0.05, -0.05, -0.13, 0.02, -0.14, 0.06, -0.09, 0.06, 0.03], sizes: [1, 0.75] },
];
const rings7: Ring[] = [
  { center: [-0.27, 0.32], shape: [-0.07, 0, -0.03, 0.03, 0.03, 0.03, 0.05, 0, 0.03, -0.02, -0.03, -0.02], sizes: [1, 0.6] },
  { center: [-0.24, 0.31], shape: [-0.16, -0.03, -0.1, 0.07, 0.02, 0.08, 0.13, 0.03, 0.11, -0.06, 0, -0.1, -0.1, -0.08], sizes: [1, 0.82] },
  { center: [0.4, 0.75], shape: oval, sizes: [0.6, 0.55, 0.5, 0.45, 0.4, 0.36, 0.32, 0.28, 0.24] },
  { center: [0.38, 0.72], shape: [-0.06, 0.02, -0.04, 0.13, 0.04, 0.15, 0.06, 0, 0, -0.12], sizes: [1] },
];
const rings8: Ring[] = [
  { center: [-0.18, 0.38], shape: [-0.17, 0.03, -0.12, 0.1, 0, 0.05, 0.12, 0, 0.19, -0.04, 0.1, -0.08, -0.05, -0.06], sizes: [1, 0.85, 0.7, 0.55, 0.42, 0.3] },
  { center: [-0.1, 0.36], shape: [-0.26, 0.04, -0.2, 0.19, -0.05, 0.12, 0.12, 0.05, 0.28, -0.05, 0.16, -0.12, -0.1, -0.12], sizes: [1, 0.9, 1.12] },
  { center: [0.385, 0.83], shape: oval, sizes: [0.2, 0.14, 0.08] },
];
const rings9: Ring[] = [];
const rings = [rings0, rings1, rings2, rings3, rings4, rings5, rings6, rings7, rings8, rings9];

const colorScale = scaleLinear<string>().domain(colorTicks).range(colorValues).clamp(true);

const columnXs = [
  [58, 428],
  [493, 864],
];
const rowYs = [
  [19, 105],
  [148, 233],
  [276, 361],
  [404, 489],
  [532, 617],
];

const toPairs = (flat: number[]) => range(0, flat.length, 2).map((i) => [flat[i], flat[i + 1]]);

const Panel = ({ index }: { index: number }) => {
  const col = index < 5 ? 0 : 1;
  const [left, right] = columnXs[col];
  const [top, bottom] = rowYs[index % 5];
  const axesRef = useRef<SVGGElement>(null);

  const x = scaleLinear().domain([-0.5, 0.5]).range([left, right]);
  const y = scaleLinear().domain([0, 1]).range([bottom, top]);

  useEffect(() => {
    const g = select(axesRef.current);
    g.selectAll("*").remove();
    const fmtN = (d: any) => String(d);
    const fmtZ = (d: any) => (d === 0 ? "0" : d.toFixed(1));
    const style = (sel: any) => {
      sel.attr("font-family", null).attr("font-size", null);
      sel.selectAll("path").attr("stroke", "#666").attr("stroke-width", 1.2);
      sel.selectAll("line").attr("stroke", "#666");
      sel.selectAll("text").style("font-family", `"${FONT}", serif`).style("font-size", "16px").attr("fill", "#333");
    };
    g.append("g")
      .attr("transform", `translate(0,${bottom})`)
      .call(axisBottom(x).tickValues(nTicks).tickSize(-3).tickPadding(10).tickFormat(fmtN))
      .call(style);
    g.append("g")
      .attr("transform", `translate(${left},0)`)
      .call(axisLeft(y).tickValues(zTicks).tickSize(-3).tickPadding(8).tickFormat(fmtZ))
      .call(style);
    g.append("g")
      .attr("transform", `translate(0,${top})`)
      .call(axisTop(x).tickValues(nTicks).tickSize(-3).tickFormat(() => ""))
      .call(style);
    g.append("g")
      .attr("transform", `translate(${right},0)`)
      .call(axisRight(y).tickValues(zTicks).tickSize(-3).tickFormat(() => ""))
      .call(style);
  }, []);

  const heat = heats[index];
  const hx0 = x(-0.465);
  const hx1 = x(0.45);
  const hy0 = y(heatTops[index]);
  const hy1 = y(heatBottoms[index]);
  const colBand = scaleBand<number>().domain(range(heat[0].length)).range([hx0, hx1]);
  const rowBand = scaleBand<number>().domain(range(heat.length)).range([hy0, hy1]);

  const openLine = line<number[]>()
    .x((d) => x(d[0]))
    .y((d) => y(d[1]))
    .curve(curveCatmullRom.alpha(0.5));
  const closedLine = line<number[]>()
    .x((d) => x(d[0]))
    .y((d) => y(d[1]))
    .curve(curveCatmullRomClosed.alpha(0.5));

  const clipId = `clip-${index}`;
  const textStyle = { fontFamily: `"${FONT}", serif`, fontSize: 11.5 };
  const axisTitleStyle = { fontFamily: `"${FONT}", serif`, fontSize: 17, fontStyle: "italic" };

  return (
    <g>
      <clipPath id={clipId}>
        <rect x={hx0} y={hy0} width={hx1 - hx0} height={hy1 - hy0} />
      </clipPath>
      <g clipPath={`url(#${clipId})`}>
        <g filter="url(#soft)">
          {heat.map((row, r) =>
            row.map((v, c) => {
              // outer cells run past the clip so the blur does not fade at the edge
              const ex0 = c === 0 ? 10 : 0;
              const ex1 = c === row.length - 1 ? 10 : 0;
              const ey0 = r === 0 ? 10 : 0;
              const ey1 = r === heat.length - 1 ? 10 : 0;
              return (
                <rect
                  key={`${r}-${c}`}
                  x={colBand(c)! - ex0}
                  y={rowBand(r)! - ey0}
                  width={colBand.bandwidth() + ex0 + ex1 + 0.5}
                  height={rowBand.bandwidth() + ey0 + ey1 + 0.5}
                  fill={colorScale(v)}
                />
              );
            })
          )}
        </g>
      </g>
      <g stroke="#3b47b4" fill="#3b47b4" strokeWidth={1.5}>
        {arrowZ.map((z, r) =>
          arrowN.map((n, c) => {
            const x0 = x(n);
            const y0 = y(z);
            const du = us[index][r][c];
            const dv = -vs[index][r][c];
            const len = Math.hypot(du, dv);
            if (len === 0) return <circle key={`${r}-${c}`} cx={x0} cy={y0} r={0.8} stroke="none" />;
            const ux = du / len;
            const uy = dv / len;
            const head = Math.min(4.5, 1.5 + len * 0.35);
            const tipX = x0 + du;
            const tipY = y0 + dv;
            const points = [
              [tipX, tipY],
              [tipX - ux * head - uy * head * 0.55, tipY - uy * head + ux * head * 0.55],
              [tipX - ux * head + uy * head * 0.55, tipY - uy * head - ux * head * 0.55],
            ];
            return (
              <g key={`${r}-${c}`}>
                <line x1={x0} y1={y0} x2={tipX} y2={tipY} />
                <polygon points={points.join(" ")} stroke="none" />
              </g>
            );
          })
        )}
      </g>
      <g fill="none" stroke="#1a1a1a" strokeWidth={0.6}>
        {streams[index].map((flat, i) => (
          <path key={i} d={openLine(toPairs(flat)) ?? ""} />
        ))}
        {rings[index].map((ring, i) =>
          ring.sizes.map((size, j) => (
            <path
              key={`${i}-${j}`}
              d={closedLine(toPairs(ring.shape).map((p) => [ring.center[0] + p[0] * size, ring.center[1] + p[1] * size])) ?? ""}
            />
          ))
        )}
      </g>
      <g ref={axesRef} />
      <text x={left} y={top - 2} style={textStyle} fill="#111">
        Inner
      </text>
      <text x={right} y={top - 2} style={textStyle} fill="#111" textAnchor="end">
        Outer
      </text>
      <text x={(left + right) / 2} y={top - 2} style={textStyle} fill="#2e9b3e" textAnchor="middle">
        {titles[index]}
      </text>
      <text transform={`translate(${left - 36},${(top + bottom) / 2}) rotate(-90)`} style={axisTitleStyle} fill="#333" textAnchor="middle">
        z/H
      </text>
    </g>
  );
};

const ColorBar = () => {
  const ref = useRef<SVGGElement>(null);
  const cx = scaleLinear().domain([-8, 8]).range([257.5, 627.5]);
  const barTop = 668;
  const barBottom = 677.5;

  useEffect(() => {
    const g = select(ref.current);
    g.selectAll("*").remove();
    g.attr("transform", `translate(0,${barBottom})`)
      .call(axisBottom(cx).tickValues(colorTicks).tickSize(-3).tickPadding(10).tickFormat((d: any) => String(d)))
      .call((sel: any) => {
        sel.attr("font-family", null).attr("font-size", null);
        sel.select("path").attr("stroke", "none");
        sel.selectAll("line").attr("stroke", "#333");
        sel.selectAll("text").style("font-family", `"${FONT}", serif`).style("font-size", "14px").attr("fill", "#333");
      });
  }, []);

  return (
    <g>
      <defs>
        <linearGradient id="barGradient" x1="0" x2="1" y1="0" y2="0">
          {colorTicks.map((t, i) => (
            <stop key={t} offset={`${(i / (colorTicks.length - 1)) * 100}%`} stopColor={colorValues[i]} />
          ))}
        </linearGradient>
      </defs>
      <rect x={257.5} y={barTop} width={370} height={barBottom - barTop} fill="url(#barGradient)" stroke="#333" strokeWidth={1} />
      <g ref={ref} />
    </g>
  );
};

export default function App() {
  const labelStyle = { fontFamily: `"${FONT}", serif`, fontSize: 16, fontStyle: "italic" };
  return (
    <svg
      width={876}
      height={703}
      style={{ position: "absolute", left: 0, top: 0, background: "#fff", textRendering: "geometricPrecision" }}
    >
      <defs>
        <filter id="soft" x="-10%" y="-30%" width="120%" height="160%">
          <feGaussianBlur stdDeviation={3} />
        </filter>
      </defs>
      {titles.map((_, i) => (
        <Panel key={i} index={i} />
      ))}
      <text x={243} y={661} style={labelStyle} fill="#333" textAnchor="middle">
        n/B
      </text>
      <text x={678} y={661} style={labelStyle} fill="#333" textAnchor="middle">
        n/B
      </text>
      <ColorBar />
    </svg>
  );
}
